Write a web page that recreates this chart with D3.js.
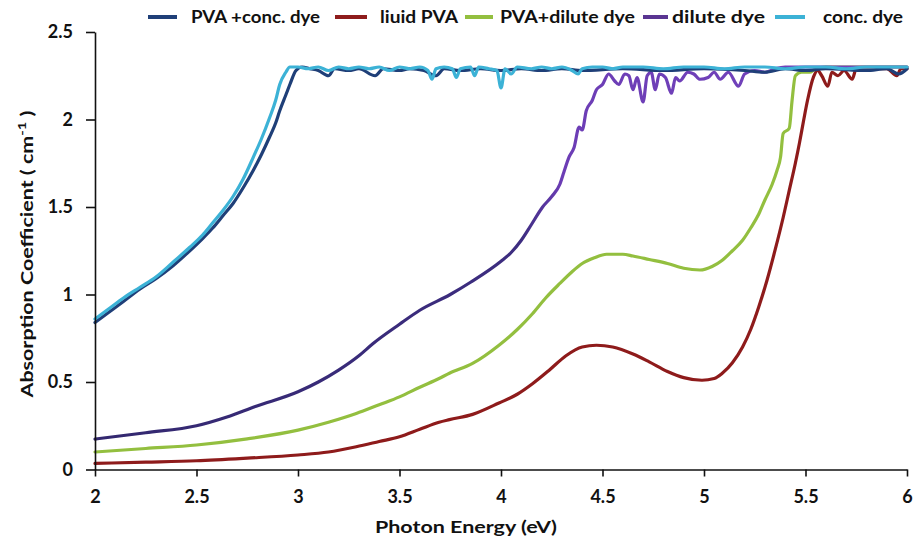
<!DOCTYPE html>
<html>
<head>
<meta charset="utf-8">
<script src="https://cdn.jsdelivr.net/npm/d3@7"></script>
<style>
  html, body { margin: 0; padding: 0; background: #fff; }
  svg text { font-family: Lato, "Open Sans", sans-serif; font-weight: bold; fill: #111; }
</style>
</head>
<body>
<svg id="chart" width="917" height="539"></svg>
<script>
// ---------- data ----------
const seriesNames = ["PVA +conc. dye", "liuid PVA", "PVA+dilute dye", "dilute dye", "conc. dye"];
const xTicks = [2, 2.5, 3, 3.5, 4, 4.5, 5, 5.5, 6];
const xTickLabels = ["2", "2.5", "3", "3.5", "4", "4.5", "5", "5.5", "6"];
const yTicks = [0, 0.5, 1, 1.5, 2, 2.5];
const yTickLabels = ["0", "0.5", "1", "1.5", "2", "2.5"];

const pvaConcDye = [[2.0,0.84],[2.07,0.90],[2.14,0.96],[2.22,1.03],[2.30,1.09],[2.38,1.16],[2.467,1.25],[2.53,1.32],[2.58,1.38],[2.63,1.45],[2.68,1.52],[2.73,1.61],[2.78,1.71],[2.82,1.80],[2.86,1.90],[2.89,1.98],[2.91,2.05],[2.94,2.14],[2.96,2.20],[2.99,2.28],[3.02,2.30],
  [3.06,2.29],[3.1,2.28],[3.15,2.25],[3.18,2.29],[3.25,2.28],[3.3,2.29],[3.38,2.25],[3.42,2.29],[3.5,2.28],[3.55,2.29],[3.62,2.28],[3.68,2.25],[3.72,2.29],[3.8,2.28],[3.9,2.29],[4.0,2.28],[4.1,2.29],[4.2,2.28],[4.3,2.29],[4.4,2.28],[4.6,2.29],[4.8,2.28],[5.0,2.29],[5.2,2.28],[5.3,2.27],[5.4,2.29],[5.5,2.28],[5.6,2.29],[5.8,2.28],[5.9,2.29],[5.96,2.26],[6.0,2.29]];

const liquidPva = [[2.0,0.035],[2.25,0.042],[2.5,0.05],[2.75,0.065],[3.0,0.083],[3.15,0.10],[3.287,0.13],[3.4,0.16],[3.5,0.187],[3.6,0.23],[3.695,0.27],[3.746,0.285],[3.86,0.315],[3.99,0.38],[4.08,0.43],[4.155,0.49],[4.24,0.57],[4.32,0.65],[4.40,0.70],[4.47,0.71],[4.55,0.70],[4.65,0.66],[4.73,0.615],[4.82,0.56],[4.90,0.525],[4.99,0.51],[5.05,0.52],[5.09,0.55],[5.14,0.61],[5.19,0.70],[5.23,0.80],[5.27,0.93],[5.31,1.08],[5.35,1.253],[5.39,1.44],[5.42,1.595],[5.45,1.75],[5.47,1.864],[5.49,1.99],[5.51,2.11],[5.54,2.245],[5.56,2.28],[5.58,2.25],[5.61,2.19],[5.63,2.27],[5.66,2.25],[5.69,2.28],[5.73,2.23],[5.75,2.29],[5.9,2.29],[5.95,2.25],[5.97,2.29],[6.0,2.29]];

const pvaDiluteDye = [[2.0,0.10],[2.25,0.12],[2.5,0.14],[2.75,0.175],[3.0,0.225],[3.15,0.27],[3.287,0.32],[3.4,0.37],[3.5,0.415],[3.6,0.47],[3.695,0.52],[3.746,0.55],[3.86,0.606],[3.99,0.71],[4.08,0.80],[4.155,0.89],[4.22,0.98],[4.29,1.063],[4.35,1.13],[4.40,1.177],[4.46,1.21],[4.52,1.23],[4.6,1.23],[4.65,1.22],[4.73,1.20],[4.82,1.177],[4.9,1.15],[4.98,1.14],[5.04,1.16],[5.09,1.196],[5.14,1.25],[5.19,1.31],[5.23,1.38],[5.27,1.46],[5.30,1.54],[5.336,1.63],[5.36,1.71],[5.377,1.785],[5.39,1.92],[5.42,1.95],[5.434,2.11],[5.45,2.25],[5.48,2.27],[5.52,2.27],[5.55,2.29],[5.6,2.30],[6.0,2.30]];

const diluteDye = [[2.0,0.174],[2.25,0.21],[2.5,0.25],[2.65,0.30],[2.79,0.36],[3.0,0.444],[3.1,0.50],[3.2,0.568],[3.3,0.65],[3.37,0.72],[3.5,0.83],[3.6,0.91],[3.75,1.0],[3.85,1.07],[4.0,1.19],[4.05,1.24],[4.1,1.31],[4.15,1.40],[4.205,1.50],[4.25,1.56],[4.29,1.63],[4.31,1.70],[4.335,1.785],[4.36,1.84],[4.385,1.957],[4.40,1.94],[4.42,2.05],[4.45,2.11],[4.47,2.17],[4.5,2.20],
  [4.53,2.26],[4.56,2.22],[4.58,2.20],[4.61,2.26],[4.63,2.25],[4.65,2.17],[4.67,2.24],[4.70,2.10],[4.72,2.25],[4.74,2.27],[4.76,2.17],[4.78,2.26],[4.81,2.24],[4.84,2.15],[4.86,2.24],[4.88,2.22],[4.92,2.27],[4.95,2.26],[4.98,2.23],[5.02,2.24],[5.05,2.27],[5.08,2.23],[5.12,2.27],[5.17,2.19],[5.2,2.26],[5.25,2.28],[5.3,2.27],[5.35,2.29],[5.4,2.30],[6.0,2.30]];

const concDye = [[2.0,0.86],[2.07,0.92],[2.14,0.98],[2.22,1.04],[2.30,1.10],[2.38,1.18],[2.467,1.27],[2.53,1.34],[2.58,1.41],[2.63,1.48],[2.68,1.56],[2.73,1.66],[2.78,1.785],[2.82,1.89],[2.86,2.01],[2.89,2.11],[2.91,2.20],[2.94,2.27],[2.96,2.30],
  [3.0,2.30],[3.05,2.29],[3.1,2.30],[3.15,2.28],[3.2,2.30],[3.25,2.29],[3.3,2.30],[3.35,2.29],[3.4,2.30],[3.45,2.28],[3.5,2.30],[3.55,2.29],[3.6,2.30],[3.64,2.28],[3.66,2.23],[3.68,2.29],[3.72,2.30],[3.76,2.29],[3.78,2.24],[3.80,2.29],[3.85,2.30],[3.87,2.25],[3.89,2.30],[3.94,2.29],[3.98,2.28],[4.0,2.18],[4.02,2.29],[4.05,2.26],[4.08,2.30],[4.15,2.29],[4.2,2.30],[4.25,2.29],[4.3,2.30],[4.35,2.28],[4.38,2.26],[4.4,2.29],[4.45,2.30],[4.5,2.30],[4.55,2.29],[4.6,2.30],[4.7,2.30],[4.8,2.29],[4.9,2.30],[5.0,2.30],[5.1,2.29],[5.2,2.30],[5.3,2.30],[5.4,2.29],[5.5,2.30],[5.6,2.30],[5.7,2.29],[5.8,2.30],[5.9,2.30],[6.0,2.30]];

const seriesData = [pvaConcDye, liquidPva, pvaDiluteDye, diluteDye, concDye];
const seriesColors = ["#1f3f78", "#8e1b1b", "#93bf3f", "url(#diluteGrad)", "#3cb2d6"];
const legendColors = ["#1f3f78", "#8e1c1c", "#93bf3f", "#5a3592", "#3cb2d6"];

// ---------- layout ----------
const svg = d3.select("#chart");
const x = d3.scaleLinear().domain([2, 6]).range([95, 907]);
const y = d3.scaleLinear().domain([0, 2.5]).range([469.5, 32]);

const defs = svg.append("defs");
const grad = defs.append("linearGradient").attr("id", "diluteGrad")
  .attr("gradientUnits", "userSpaceOnUse")
  .attr("x1", x(2)).attr("x2", x(6)).attr("y1", 0).attr("y2", 0);
const gStop = (v) => ((x(v) - x(2)) / (x(6) - x(2)) * 100) + "%";
grad.append("stop").attr("offset", gStop(2)).attr("stop-color", "#33286f");
grad.append("stop").attr("offset", gStop(4.1)).attr("stop-color", "#3d2d80");
grad.append("stop").attr("offset", gStop(4.3)).attr("stop-color", "#6c3db5");
grad.append("stop").attr("offset", gStop(6)).attr("stop-color", "#7444bd");

const line = d3.line().x(d => x(d[0])).y(d => y(d[1])).curve(d3.curveMonotoneX);
const drawOrder = [1, 2, 3, 0, 4];
svg.append("g").selectAll("path")
  .data(drawOrder)
  .join("path")
  .attr("d", i => line(seriesData[i]))
  .attr("fill", "none")
  .attr("stroke", i => seriesColors[i])
  .attr("stroke-width", 3.2)
  .attr("stroke-linejoin", "round")
  .attr("stroke-linecap", "round");

// axes
const xAxis = d3.axisBottom(x).tickValues(xTicks)
  .tickFormat((d, i) => xTickLabels[i]).tickSize(7).tickSizeOuter(0);
const gx = svg.append("g").attr("transform", `translate(0,${y(0)})`).call(xAxis);
gx.select(".domain").attr("stroke", "#111").attr("stroke-width", 1.6);
gx.selectAll(".tick line").attr("stroke", "#111").attr("stroke-width", 1.6);
gx.selectAll(".tick text").attr("font-size", 18).attr("dy", "1.3em").attr("fill", "#111")
  .style("font-family", "Lato, sans-serif").style("font-weight", "bold");

const yAxis = d3.axisLeft(y).tickValues(yTicks)
  .tickFormat((d, i) => yTickLabels[i]).tickSize(9).tickSizeOuter(0);
const gy = svg.append("g").attr("transform", `translate(${x(2)},0)`).call(yAxis);
gy.select(".domain").attr("stroke", "#111").attr("stroke-width", 1.6);
gy.selectAll(".tick line").attr("stroke", "#111").attr("stroke-width", 1.6);
gy.selectAll(".tick text").attr("font-size", 18).attr("x", -22).attr("fill", "#111")
  .style("font-family", "Lato, sans-serif").style("font-weight", "bold");

// axis titles
svg.append("text").attr("x", 466).attr("y", 533).attr("text-anchor", "middle")
  .attr("font-size", 17).attr("textLength", 182).attr("lengthAdjust", "spacingAndGlyphs")
  .text("Photon Energy (eV)");

const yt = svg.append("text").attr("text-anchor", "middle")
  .attr("transform", "translate(33,254) rotate(-90)").attr("font-size", 17.5)
  .attr("textLength", 287).attr("lengthAdjust", "spacingAndGlyphs");
yt.append("tspan").text("Absorption Coefficient ( cm");
yt.append("tspan").attr("dy", -7).attr("font-size", 12).text("-1");
yt.append("tspan").attr("dy", 7).text(" )");

// legend
const legendX = [148, 335, 465, 643, 775];
const legendSwatch = [29, 32, 28, 25, 30];
const legendTextX = [191, 380, 500, 672, 823];
const legendTextW = [129, 78, 135, 93, 80];
const lg = svg.append("g").selectAll("g").data(seriesNames).join("g");
lg.append("line")
  .attr("x1", (d, i) => legendX[i]).attr("x2", (d, i) => legendX[i] + legendSwatch[i])
  .attr("y1", 17).attr("y2", 17)
  .attr("stroke", (d, i) => legendColors[i]).attr("stroke-width", 4);
lg.append("text").attr("x", (d, i) => legendTextX[i]).attr("y", 23)
  .attr("font-size", 16.5)
  .attr("textLength", (d, i) => legendTextW[i]).attr("lengthAdjust", "spacingAndGlyphs")
  .text(d => d);
</script>
</body>
</html>
